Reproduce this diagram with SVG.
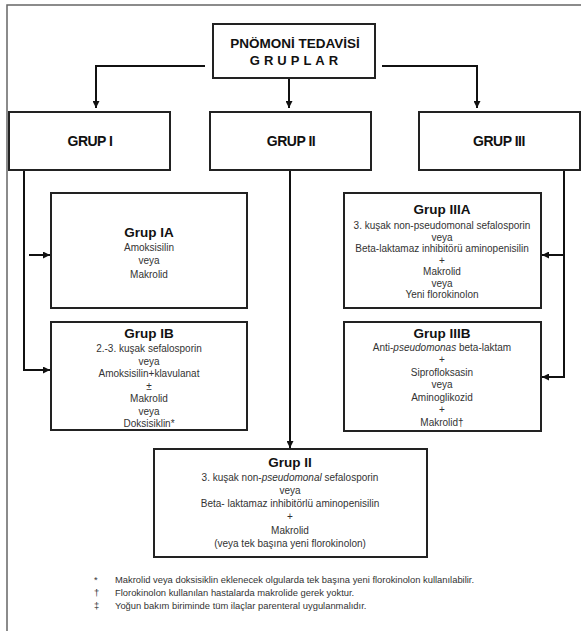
<svg xmlns="http://www.w3.org/2000/svg" width="581" height="631" viewBox="0 0 581 631">
<defs>
<marker id="ah" viewBox="0 0 10 10" refX="10" refY="5" markerWidth="7" markerHeight="7" markerUnits="userSpaceOnUse" orient="auto">
<path d="M0,0 L10,5 L0,10 z" fill="#111"/>
</marker>
<style>
.box{fill:#fff;stroke:#222;stroke-width:2}
.frame{fill:none;stroke:#666;stroke-width:1.5}
.con{fill:none;stroke:#111;stroke-width:2;marker-end:url(#ah)}
.ttl{font-family:"Liberation Sans",Arial,sans-serif;font-weight:bold;fill:#111;text-anchor:middle}
.grp{font-family:"Liberation Sans",Arial,sans-serif;font-weight:bold;font-size:14px;letter-spacing:-0.5px;fill:#111;text-anchor:middle}
.sub{font-family:"Liberation Sans",Arial,sans-serif;font-weight:bold;font-size:13.5px;fill:#111;text-anchor:middle}
.b{font-family:"Liberation Sans",Arial,sans-serif;font-size:10px;fill:#333;text-anchor:middle}
.fn{font-family:"Liberation Sans",Arial,sans-serif;font-size:9.4px;fill:#333}
</style>
</defs>
<rect width="581" height="631" fill="#fff"/>
<path class="frame" d="M7,631 V5 H581"/>

<g id="connectors">
<path class="con" d="M205,66 H96 V108"/>
<path class="con" d="M289,78 V108"/>
<path class="con" d="M382,66 H477 V108"/>
<path class="con" d="M29,255 H50"/>
<path class="con" d="M24,170 V370 H50"/>
<path class="con" d="M290,170 V448"/>
<path class="con" d="M564,170 V377 H542"/>
<path class="con" d="M564,255 H542"/>
</g>

<g id="title">
<rect class="box" x="213" y="24" width="162" height="54" stroke-width="1.5"/>
<text class="ttl" x="295" y="48" font-size="13.5">PNÖMONİ TEDAVİSİ</text>
<text class="ttl" x="296" y="65" font-size="13" letter-spacing="4">GRUPLAR</text>
</g>

<g id="grup1">
<rect class="box" x="9" y="112" width="161" height="58"/>
<text class="grp" x="90" y="146">GRUP I</text>
</g>
<g id="grup2">
<rect class="box" x="210" y="112" width="161" height="58"/>
<text class="grp" x="291" y="146">GRUP II</text>
</g>
<g id="grup3">
<rect class="box" x="419" y="112" width="161" height="58"/>
<text class="grp" x="499" y="146">GRUP III</text>
</g>

<g id="grupIA">
<rect class="box" x="51" y="193" width="196" height="115"/>
<text class="sub" x="149" y="237">Grup IA</text>
<text class="b" x="149" y="251">Amoksisilin</text>
<text class="b" x="149" y="264">veya</text>
<text class="b" x="149" y="278">Makrolid</text>
</g>

<g id="grupIB">
<rect class="box" x="51" y="322" width="196" height="108"/>
<text class="sub" x="149" y="338">Grup IB</text>
<text class="b" x="149" y="352">2.-3. kuşak sefalosporin</text>
<text class="b" x="149" y="365">veya</text>
<text class="b" x="149" y="377">Amoksisilin+klavulanat</text>
<text class="b" x="149" y="390">±</text>
<text class="b" x="149" y="402">Makrolid</text>
<text class="b" x="149" y="415">veya</text>
<text class="b" x="149" y="427">Doksisiklin*</text>
</g>

<g id="grupIIIA">
<rect class="box" x="344" y="193" width="197" height="115"/>
<text class="sub" x="442" y="214">Grup IIIA</text>
<text class="b" x="442" y="229" font-size="10.8">3. kuşak non-pseudomonal sefalosporin</text>
<text class="b" x="442" y="240.5" font-size="10.8">veya</text>
<text class="b" x="442" y="252" font-size="10.8">Beta-laktamaz inhibitörü aminopenisilin</text>
<text class="b" x="442" y="263.5" font-size="10.8">+</text>
<text class="b" x="442" y="275" font-size="10.8">Makrolid</text>
<text class="b" x="442" y="286.5" font-size="10.8">veya</text>
<text class="b" x="442" y="298" font-size="10.8">Yeni florokinolon</text>
</g>

<g id="grupIIIB">
<rect class="box" x="344" y="322" width="197" height="109"/>
<text class="sub" x="442" y="338">Grup IIIB</text>
<text class="b" x="442" y="350.5" font-size="10.5">Anti-<tspan font-style="italic">pseudomonas</tspan> beta-laktam</text>
<text class="b" x="442" y="363" font-size="10.5">+</text>
<text class="b" x="442" y="375.5" font-size="10.5">Siprofloksasin</text>
<text class="b" x="442" y="388" font-size="10.5">veya</text>
<text class="b" x="442" y="400.5" font-size="10.5">Aminoglikozid</text>
<text class="b" x="442" y="413" font-size="10.5">+</text>
<text class="b" x="442" y="425.5" font-size="10.5">Makrolid†</text>
</g>

<g id="grupII">
<rect class="box" x="154" y="449" width="273" height="108"/>
<text class="sub" x="290" y="467">Grup II</text>
<text class="b" x="290" y="481" font-size="10.3">3. kuşak non-<tspan font-style="italic">pseudomonal</tspan> sefalosporin</text>
<text class="b" x="290" y="494" font-size="10.3">veya</text>
<text class="b" x="290" y="507" font-size="10.3">Beta- laktamaz inhibitörlü aminopenisilin</text>
<text class="b" x="290" y="520" font-size="10.3">+</text>
<text class="b" x="290" y="534" font-size="10.3">Makrolid</text>
<text class="b" x="290" y="547" font-size="10.3">(veya tek başına yeni florokinolon)</text>
</g>

<g id="footnotes">
<text class="fn" x="94" y="583">*</text>
<text class="fn" x="115" y="583">Makrolid  veya doksisiklin eklenecek olgularda tek başına yeni florokinolon kullanılabilir.</text>
<text class="fn" x="94" y="596">†</text>
<text class="fn" x="115" y="596">Florokinolon kullanılan hastalarda makrolide gerek yoktur.</text>
<text class="fn" x="94" y="609">‡</text>
<text class="fn" x="115" y="609">Yoğun bakım biriminde tüm ilaçlar parenteral uygulanmalıdır.</text>
</g>
</svg>
